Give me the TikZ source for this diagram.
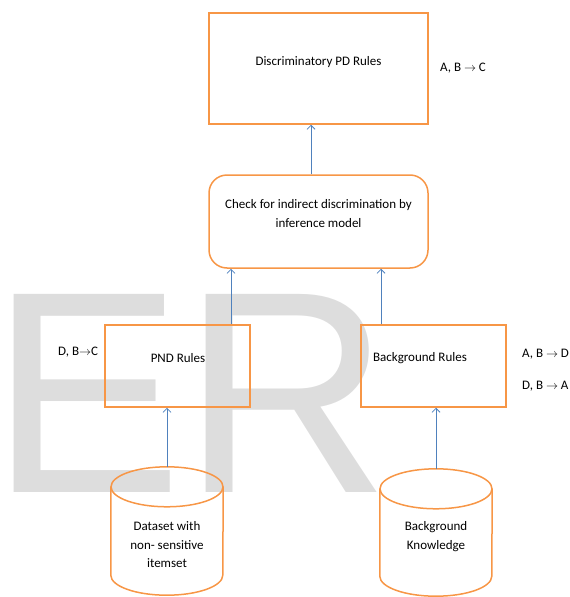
\documentclass[tikz,border=0pt]{standalone}
\usepackage{fontspec}
\setmainfont{Carlito}
\newfontfamily\wmfont{Liberation Sans}
\usetikzlibrary{arrows.meta}
\definecolor{boxorange}{HTML}{F79646}
\definecolor{arrblue}{HTML}{4F81BD}
\definecolor{wmgray}{HTML}{DDDDDD}
\newcommand{\ra}{$\rightarrow$}
\begin{document}
\begin{tikzpicture}[x=1pt,y=-1pt,
  font=\fontsize{13}{19}\selectfont,
  rulebox/.style={draw=boxorange, line width=1.5pt, inner sep=0pt, align=center},
  cylbox/.style={inner sep=0pt, align=center, minimum width=112pt},
  conn/.style={draw=arrblue, line width=0.8pt, -{Straight Barb[length=4pt,width=8pt]}},
  lbl/.style={inner sep=0pt, anchor=west},
  cylline/.style={draw=boxorange, line width=1.5pt}
]
\useasboundingbox (0,0) rectangle (570,597);
% watermark
\node[anchor=base west, inner sep=0pt, text=wmgray] (wm) at (-10,492) {\wmfont\fontsize{288}{288}\selectfont ER};

% boxes
\node[rulebox, minimum width=219pt, minimum height=111pt] (disc) at (318.5,68.5) {};
\node[inner sep=0pt] (disct) at (318.5,62) {Discriminatory PD Rules};
\node[rulebox, rounded corners=18pt, minimum width=219pt, minimum height=93pt] (check) at (318.5,221.5) {};
\node[inner sep=0pt, align=center] (checkt) at (318.5,214) {Check for indirect discrimination by\\inference model};
\node[rulebox, minimum width=145pt, minimum height=82pt] (pnd) at (177.5,366) {};
\node[inner sep=0pt] (pndt) at (178,358) {PND Rules};
\node[rulebox, minimum width=145pt, minimum height=82pt] (bg) at (433.5,366) {};
\node[inner sep=0pt] (bgt) at (420,358) {Background Rules};

% labels
\node[lbl] (l1) at (440,68) {A, B \ra\ C};
\node[lbl] (l2) at (58,352) {D, B\ra C};
\node[lbl] (l3) at (522,354) {A, B \ra\ D};
\node[lbl] (l4) at (522,386) {D, B \ra\ A};

% cylinders
\node[cylbox, minimum height=128pt] (ds) at (167,531) {};
\node[inner sep=0pt, align=center, font=\fontsize{13}{18.5}\selectfont] (dst) at (167,545) {Dataset with\\non- sensitive\\itemset};
\node[cylbox, minimum height=127pt] (bk) at (436,532.5) {};
\node[inner sep=0pt, align=center, font=\fontsize{13}{19}\selectfont] (bkt) at (436,536.5) {Background\\Knowledge};

\foreach \c in {ds,bk}{
  \draw[cylline] ([yshift=-20pt]\c.north) ellipse [x radius=56pt, y radius=20pt];
  \draw[cylline] ([yshift=-20pt]\c.north west) -- ([yshift=20pt]\c.south west)
     arc[start angle=180, end angle=360, x radius=56pt, y radius=20pt]
     -- ([yshift=-20pt]\c.north east);
}

% connectors
\draw[conn] (ds.north) -- (ds.north |- pnd.south);
\draw[conn] (bk.north) -- (bk.north |- bg.south);
\draw[conn] ([xshift=53.5pt]pnd.north) -- ([xshift=53.5pt]pnd.north |- check.south);
\draw[conn] ([xshift=-52.5pt]bg.north) -- ([xshift=-52.5pt]bg.north |- check.south);
\draw[conn] ([xshift=-7.5pt]check.north) -- ([xshift=-7.5pt]check.north |- disc.south);
\end{tikzpicture}
\end{document}
